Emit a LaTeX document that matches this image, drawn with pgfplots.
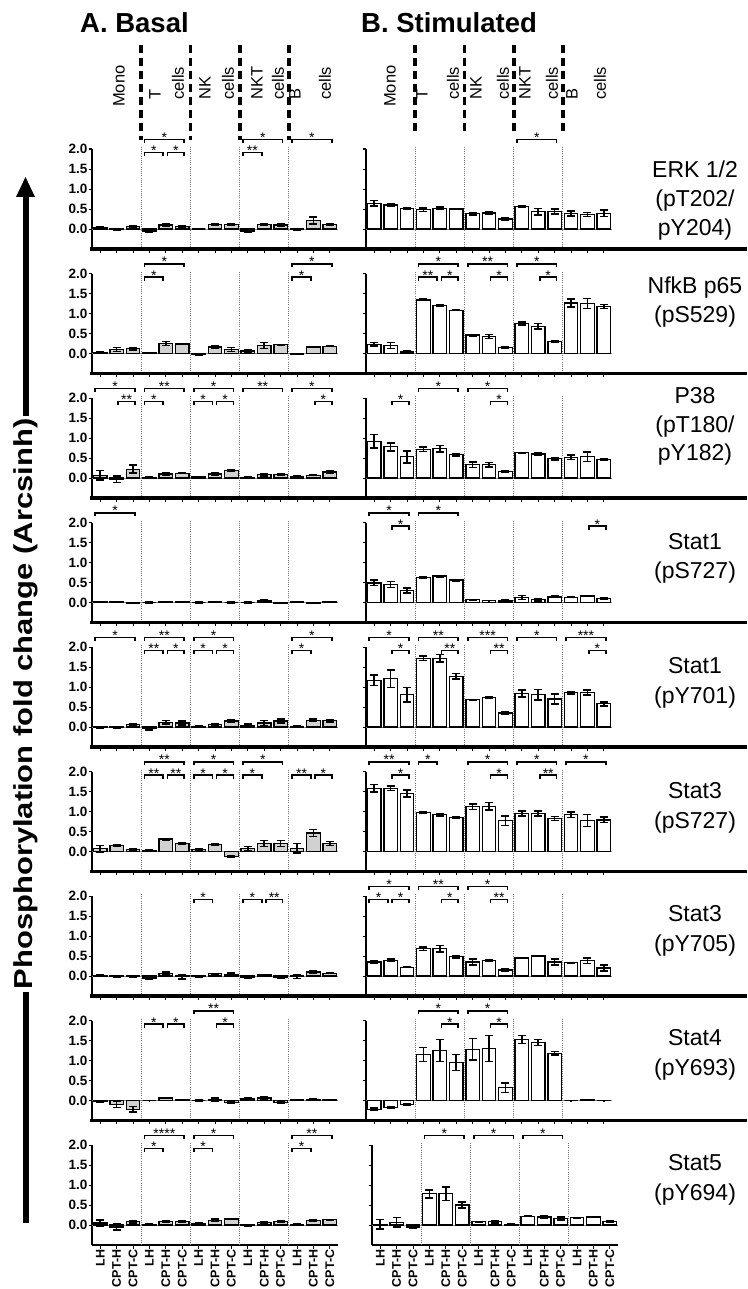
\documentclass[border=0pt]{standalone}
\usepackage{fontspec}
\setmainfont{Liberation Sans}
\usepackage{graphicx}
\usepackage{pgfplots}
\usepackage{pgfplotstable}
\pgfplotsset{compat=1.18}

% ---------- data (y = mean, e = error) ----------
\pgfplotstableread[row sep=\\]{y e\\0.03 0.02\\-0.01 0.01\\0.06 0.02\\-0.05 0.03\\0.10 0.03\\0.07 0.02\\0.00 0.01\\0.11 0.02\\0.12 0.02\\-0.05 0.03\\0.12 0.02\\0.10 0.03\\-0.01 0.01\\0.21 0.09\\0.11 0.01\\}\dLa
\pgfplotstableread[row sep=\\]{y e\\0.64 0.07\\0.60 0.03\\0.52 0.02\\0.48 0.04\\0.52 0.03\\0.50 0.01\\0.38 0.03\\0.40 0.04\\0.25 0.03\\0.57 0.02\\0.43 0.08\\0.44 0.06\\0.39 0.06\\0.36 0.05\\0.39 0.08\\}\dRa
\pgfplotstableread[row sep=\\]{y e\\0.03 0.02\\0.10 0.05\\0.12 0.03\\0.01 0.01\\0.25 0.05\\0.24 0.01\\-0.02 0.02\\0.16 0.04\\0.10 0.05\\0.06 0.03\\0.20 0.08\\0.22 0.01\\-0.01 0.01\\0.16 0.01\\0.18 0.01\\}\dLb
\pgfplotstableread[row sep=\\]{y e\\0.23 0.04\\0.20 0.08\\0.04 0.02\\1.34 0.02\\1.20 0.02\\1.08 0.01\\0.46 0.02\\0.42 0.05\\0.15 0.01\\0.75 0.04\\0.68 0.07\\0.30 0.01\\1.26 0.10\\1.25 0.12\\1.18 0.05\\}\dRb
\pgfplotstableread[row sep=\\]{y e\\0.07 0.12\\-0.03 0.08\\0.22 0.10\\0.02 0.01\\0.10 0.02\\0.12 0.01\\0.03 0.01\\0.10 0.03\\0.18 0.02\\0.02 0.01\\0.08 0.03\\0.08 0.02\\0.04 0.02\\0.07 0.01\\0.15 0.02\\}\dLc
\pgfplotstableread[row sep=\\]{y e\\0.92 0.17\\0.78 0.10\\0.53 0.15\\0.72 0.06\\0.73 0.08\\0.58 0.03\\0.33 0.07\\0.33 0.06\\0.16 0.01\\0.63 0.01\\0.60 0.04\\0.48 0.03\\0.52 0.06\\0.53 0.12\\0.46 0.02\\}\dRc
\pgfplotstableread[row sep=\\]{y e\\0.01 0.01\\0.01 0.01\\-0.02 0.01\\0.00 0.01\\0.02 0.01\\0.02 0.01\\0.00 0.01\\0.02 0.01\\0.00 0.01\\0.00 0.01\\0.04 0.02\\-0.02 0.01\\0.01 0.01\\-0.01 0.01\\0.01 0.01\\}\dLd
\pgfplotstableread[row sep=\\]{y e\\0.49 0.07\\0.45 0.08\\0.30 0.06\\0.62 0.02\\0.66 0.02\\0.56 0.02\\0.07 0.01\\0.05 0.005\\0.04 0.03\\0.13 0.05\\0.07 0.03\\0.14 0.02\\0.13 0.01\\0.16 0.01\\0.10 0.01\\}\dRd
\pgfplotstableread[row sep=\\]{y e\\-0.01 0.01\\-0.01 0.02\\0.07 0.02\\-0.04 0.04\\0.12 0.04\\0.10 0.05\\0.02 0.01\\0.07 0.02\\0.15 0.03\\0.04 0.03\\0.10 0.06\\0.15 0.05\\0.01 0.01\\0.17 0.03\\0.16 0.03\\}\dLe
\pgfplotstableread[row sep=\\]{y e\\1.17 0.13\\1.21 0.22\\0.81 0.18\\1.72 0.06\\1.72 0.09\\1.27 0.07\\0.68 0.01\\0.74 0.01\\0.35 0.02\\0.84 0.09\\0.81 0.13\\0.70 0.13\\0.86 0.03\\0.86 0.06\\0.58 0.05\\}\dRe
\pgfplotstableread[row sep=\\]{y e\\0.07 0.08\\0.15 0.03\\0.05 0.01\\0.03 0.01\\0.31 0.02\\0.20 0.01\\0.05 0.02\\0.18 0.02\\-0.12 0.02\\0.07 0.05\\0.20 0.07\\0.20 0.07\\0.08 0.12\\0.46 0.09\\0.20 0.05\\}\dLf
\pgfplotstableread[row sep=\\]{y e\\1.58 0.09\\1.58 0.06\\1.45 0.09\\0.98 0.02\\0.92 0.03\\0.85 0.01\\1.12 0.07\\1.13 0.09\\0.77 0.12\\0.95 0.06\\0.95 0.06\\0.83 0.05\\0.92 0.07\\0.77 0.15\\0.79 0.07\\}\dRf
\pgfplotstableread[row sep=\\]{y e\\0.02 0.01\\-0.02 0.01\\-0.01 0.01\\-0.05 0.04\\0.06 0.04\\-0.02 0.05\\-0.01 0.01\\0.06 0.005\\0.04 0.03\\-0.03 0.02\\0.03 0.01\\-0.04 0.01\\-0.02 0.04\\0.10 0.03\\0.07 0.005\\}\dLg
\pgfplotstableread[row sep=\\]{y e\\0.35 0.04\\0.39 0.03\\0.22 0.01\\0.68 0.04\\0.68 0.08\\0.48 0.03\\0.35 0.08\\0.39 0.02\\0.15 0.03\\0.45 0.01\\0.50 0.005\\0.35 0.07\\0.33 0.01\\0.38 0.07\\0.20 0.07\\}\dRg
\pgfplotstableread[row sep=\\]{y e\\-0.03 0.02\\-0.10 0.08\\-0.22 0.07\\0.00 0.005\\0.06 0.01\\0.01 0.01\\0.00 0.01\\0.02 0.04\\-0.05 0.02\\0.04 0.04\\0.06 0.03\\-0.05 0.03\\0.02 0.01\\0.03 0.02\\0.01 0.01\\}\dLh
\pgfplotstableread[row sep=\\]{y e\\-0.22 0.03\\-0.17 0.02\\-0.10 0.03\\1.15 0.18\\1.25 0.27\\0.95 0.20\\1.28 0.27\\1.30 0.33\\0.32 0.12\\1.52 0.10\\1.45 0.08\\1.18 0.04\\0.00 0.005\\0.02 0.01\\0.00 0.005\\}\dRh
\pgfplotstableread[row sep=\\]{y e\\0.05 0.08\\-0.05 0.07\\0.08 0.03\\0.01 0.01\\0.08 0.02\\0.09 0.01\\0.04 0.01\\0.12 0.03\\0.15 0.01\\-0.01 0.02\\0.07 0.02\\0.08 0.02\\0.01 0.01\\0.12 0.02\\0.13 0.01\\}\dLi
\pgfplotstableread[row sep=\\]{y e\\0.02 0.12\\0.07 0.12\\-0.05 0.03\\0.78 0.10\\0.78 0.17\\0.50 0.08\\0.08 0.01\\0.08 0.03\\0.02 0.01\\0.22 0.01\\0.20 0.02\\0.16 0.04\\0.18 0.01\\0.20 0.01\\0.08 0.02\\}\dRi

% ---------- styles ----------
\pgfplotsset{
  panel/.style={scale only axis, width=246pt, height=100pt,
    xmin=-0.5, xmax=14.5, ymin=-0.5, ymax=2, clip=false,
    axis x line*=bottom, axis y line*=left,
    xtick={0,...,14}, xticklabels={}, ytick={0,0.5,1,1.5,2},
    tick align=outside, major tick length=3.5pt,
    tick style={black, line width=1pt},
    axis line style={black, line width=1.6pt},
    anchor=south west},
  L/.style={panel, yticklabels={0.0,0.5,1.0,1.5,2.0},
    yticklabel style={font=\bfseries\fontsize{13.5}{13.5}\selectfont, inner sep=1pt}},
  R/.style={panel, yticklabels={}},
  B/.style={xticklabels={LH,CPT-H,CPT-C,LH,CPT-H,CPT-C,LH,CPT-H,CPT-C,LH,CPT-H,CPT-C,LH,CPT-H,CPT-C},
    xticklabel style={rotate=90, anchor=east, font=\bfseries\fontsize{12.5}{13}\selectfont, inner sep=1pt}},
  bar/.style={ybar, bar width=13.5pt, draw=black, line width=1.3pt,
    error bars/y dir=both, error bars/y explicit,
    error bars/error bar style={line width=1.5pt, black},
    error bars/error mark options={rotate=90, mark size=4pt, line width=1.5pt, black}},
}
\tikzset{
  brkline/.style={line width=1.7pt, black},
  brklab/.style={anchor=base, yshift=-3pt, inner sep=0pt, font=\fontsize{14}{14}\selectfont},
  sepl/.style={black!55, line width=0.7pt, dash pattern=on 0.9pt off 1.3pt},
  grp/.style={rotate=90, anchor=west, inner sep=0pt, font=\fontsize{16.5}{16.5}\selectfont},
  dsh/.style={line width=3.8pt, dash pattern=on 8pt off 5pt},
  rlab/.style={anchor=base, inner sep=0pt, font=\fontsize{23}{23}\selectfont},
}

\newcommand{\brk}[4]{%
  \pgfmathsetmacro\bxa{#1}\pgfmathsetmacro\bxb{#2}\pgfmathsetmacro\bxm{0.5*(\bxa+\bxb)}%
  \edef\bcmd{\noexpand\draw[brkline] ([yshift=-3.5pt]axis cs:\bxa,#3) -- (axis cs:\bxa,#3) -- (axis cs:\bxb,#3) -- ([yshift=-3.5pt]axis cs:\bxb,#3);%
    \noexpand\node[brklab] at (axis cs:\bxm,#3) {#4};}%
  \bcmd}
\newcommand{\bO}[2]{\brk{#1-0.3}{#1+2.12}{2.24}{#2}}
\newcommand{\bA}[2]{\brk{#1-0.3}{#1+0.85}{1.91}{#2}}
\newcommand{\bAu}[2]{\brk{#1-0.3}{#1+0.85}{2.24}{#2}}
\newcommand{\bB}[2]{\brk{#1+1.1}{#1+2.12}{1.91}{#2}}
\newcommand{\deco}{%
  \draw[black!45, line width=0.8pt] (axis cs:-0.5,0) -- (axis cs:14.5,0);
  \draw[sepl] (axis cs:2.5,-0.5) -- (axis cs:2.5,2.05);
  \draw[sepl] (axis cs:5.5,-0.5) -- (axis cs:5.5,2.05);
  \draw[sepl] (axis cs:8.5,-0.5) -- (axis cs:8.5,2.05);
  \draw[sepl] (axis cs:11.5,-0.5) -- (axis cs:11.5,2.05);}
\newcommand{\pl}[2]{\addplot[bar, #1] table[x expr=\coordindex, y=y, y error=e]{#2};}
\newcommand{\rl}[2]{\node[rlab] at (695pt,{-(#1+8)*1pt}) {#2};}

\begin{document}
\begin{tikzpicture}
\useasboundingbox (0,0) rectangle (747pt,-1289pt);

% ---- row 1: ERK
\begin{axis}[L, at={(92pt,-249pt)}]
\deco \pl{fill=black!18}{\dLa}
\bO{3}{*}\bA{3}{*}\bB{3}{*}\bO{9}{*}\bA{9}{**}\bO{12}{*}
\end{axis}
\begin{axis}[R, at={(366pt,-249pt)}]
\deco \pl{fill=white}{\dRa}
\bO{9}{*}
\end{axis}
% ---- row 2: NfkB
\begin{axis}[L, at={(92pt,-373.5pt)}]
\deco \pl{fill=black!18}{\dLb}
\bO{3}{*}\bA{3}{*}\bO{12}{*}\bA{12}{*}
\end{axis}
\begin{axis}[R, at={(366pt,-373.5pt)}]
\deco \pl{fill=white}{\dRb}
\bO{3}{*}\bA{3}{**}\bB{3}{*}\bO{6}{**}\bB{6}{*}\bO{9}{*}\bB{9}{*}
\end{axis}
% ---- row 3: P38
\begin{axis}[L, at={(92pt,-498pt)}]
\deco \pl{fill=black!18}{\dLc}
\bO{0}{*}\bB{0}{**}\bO{3}{**}\bA{3}{*}\bO{6}{*}\bA{6}{*}\bB{6}{*}\bO{9}{**}\bO{12}{*}\bB{12}{*}
\end{axis}
\begin{axis}[R, at={(366pt,-498pt)}]
\deco \pl{fill=white}{\dRc}
\bB{0}{*}\bO{3}{*}\bO{6}{*}\bB{6}{*}
\end{axis}
% ---- row 4: Stat1 pS727
\begin{axis}[L, at={(92pt,-622.5pt)}]
\deco \pl{fill=black!18}{\dLd}
\bO{0}{*}
\end{axis}
\begin{axis}[R, at={(366pt,-622.5pt)}]
\deco \pl{fill=white}{\dRd}
\bO{0}{*}\bB{0}{*}\bO{3}{*}\bB{12}{*}
\end{axis}
% ---- row 5: Stat1 pY701
\begin{axis}[L, at={(92pt,-747pt)}]
\deco \pl{fill=black!18}{\dLe}
\bO{0}{*}\bO{3}{**}\bA{3}{**}\bB{3}{*}\bO{6}{*}\bA{6}{*}\bB{6}{*}\bO{12}{*}\bA{12}{*}
\end{axis}
\begin{axis}[R, at={(366pt,-747pt)}]
\deco \pl{fill=white}{\dRe}
\bO{0}{*}\bB{0}{*}\bO{3}{**}\bB{3}{**}\bO{6}{***}\bB{6}{**}\bO{9}{*}\bO{12}{***}\bB{12}{*}
\end{axis}
% ---- row 6: Stat3 pS727
\begin{axis}[L, at={(92pt,-871.5pt)}]
\deco \pl{fill=black!18}{\dLf}
\bO{3}{**}\bA{3}{**}\bB{3}{**}\bO{6}{*}\bA{6}{*}\bB{6}{*}\bO{9}{*}\bA{9}{*}\bA{12}{**}\bB{12}{*}
\end{axis}
\begin{axis}[R, at={(366pt,-871.5pt)}]
\deco \pl{fill=white}{\dRf}
\bO{0}{**}\bB{0}{*}\bAu{3}{*}\bO{6}{*}\bB{6}{*}\bO{9}{*}\bB{9}{**}\bO{12}{*}
\end{axis}
% ---- row 7: Stat3 pY705
\begin{axis}[L, at={(92pt,-996pt)}]
\deco \pl{fill=black!18}{\dLg}
\bA{6}{*}\bA{9}{*}\bB{9}{**}
\end{axis}
\begin{axis}[R, at={(366pt,-996pt)}]
\deco \pl{fill=white}{\dRg}
\bO{0}{*}\bA{0}{*}\bB{0}{*}\bO{3}{**}\bB{3}{*}\bO{6}{*}\bB{6}{**}
\end{axis}
% ---- row 8: Stat4
\begin{axis}[L, at={(92pt,-1120.5pt)}]
\deco \pl{fill=black!18}{\dLh}
\bA{3}{*}\bB{3}{*}\bO{6}{**}\bB{6}{*}
\end{axis}
\begin{axis}[R, at={(366pt,-1120.5pt)}]
\deco \pl{fill=white}{\dRh}
\bO{3}{*}\bB{3}{*}\bO{6}{*}\bB{6}{*}
\end{axis}
% ---- row 9: Stat5
\begin{axis}[L, B, at={(92pt,-1245pt)}]
\deco \pl{fill=black!18}{\dLi}
\bO{3}{****}\bA{3}{*}\bO{6}{*}\bA{6}{*}\bO{12}{**}\bA{12}{*}
\end{axis}
\begin{axis}[R, B, at={(372pt,-1245pt)}]
\deco \pl{fill=white}{\dRi}
\bO{3}{*}\bO{6}{*}\bO{9}{*}
\end{axis}

% ---- row separators
\foreach \yy in {249,373.5,498,622.5,747,871.5,996,1120.5}
  \draw[line width=3.5pt] (90pt,{-\yy*1pt}) -- (747pt,{-\yy*1pt});

% ---- titles
\node[anchor=base west, inner sep=0pt, font=\bfseries\fontsize{27.5}{30}\selectfont] at (80pt,-33pt) {A. Basal};
\node[anchor=base west, inner sep=0pt, font=\bfseries\fontsize{27.5}{30}\selectfont] at (361pt,-33pt) {B. Stimulated};

% ---- group labels (left)
\node[grp] at (119pt,-107pt) {Mono};
\node[grp] at (155pt,-100pt) {T};
\node[grp] at (178pt,-100pt) {cells};
\node[grp] at (205pt,-100pt) {NK};
\node[grp] at (228pt,-100pt) {cells};
\node[grp] at (257pt,-100pt) {NKT};
\node[grp] at (278pt,-100pt) {cells};
\node[grp] at (295pt,-100pt) {B};
\node[grp] at (325pt,-100pt) {cells};
% ---- group labels (right)
\node[grp] at (390pt,-107pt) {Mono};
\node[grp] at (422pt,-100pt) {T};
\node[grp] at (453pt,-100pt) {cells};
\node[grp] at (476pt,-100pt) {NK};
\node[grp] at (503pt,-100pt) {cells};
\node[grp] at (525pt,-100pt) {NKT};
\node[grp] at (552pt,-100pt) {cells};
\node[grp] at (572pt,-100pt) {B};
\node[grp] at (600pt,-100pt) {cells};
% ---- dashed separators
\foreach \xx in {141.2,190.4,239.6,288.8}
  \draw[dsh] ({\xx*1pt},-45pt) -- ({\xx*1pt},-140pt);
\foreach \xx in {415.2,464.4,513.6,562.8}
  \draw[dsh] ({\xx*1pt},-45pt) -- ({\xx*1pt},-135pt);

% ---- right labels
\rl{170}{ERK 1/2}\rl{199}{(pT202/}\rl{228}{pY204)}
\rl{285}{NfkB p65}\rl{314}{(pS529)}
\rl{395}{P38}\rl{424}{(pT180/}\rl{452}{pY182)}
\rl{541}{Stat1}\rl{570}{(pS727)}
\rl{665}{Stat1}\rl{695}{(pY701)}
\rl{790}{Stat3}\rl{820}{(pS727)}
\rl{913}{Stat3}\rl{943}{(pY705)}
\rl{1037}{Stat4}\rl{1067}{(pY693)}
\rl{1162}{Stat5}\rl{1192}{(pY694)}

% ---- vertical arrow and label
\draw[line width=6pt] (25.5pt,-1223pt) -- (25.5pt,-195pt);
\fill (16pt,-197pt) -- (25.5pt,-177pt) -- (35pt,-197pt) -- cycle;
\node[rotate=90, fill=white, inner sep=3pt, font=\bfseries\fontsize{26}{26}\selectfont] at (25.5pt,-704pt)
  {\scalebox{1.19}[1]{Phosphorylation fold change (Arcsinh)}};
\end{tikzpicture}
\end{document}
